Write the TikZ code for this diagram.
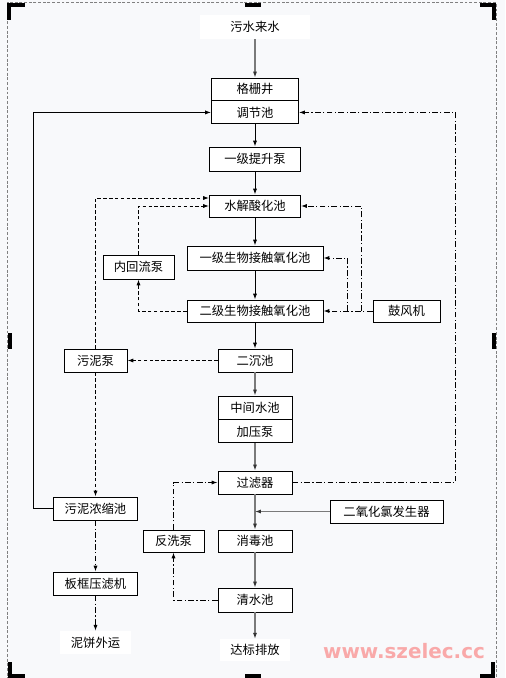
\documentclass[tikz,border=0pt]{standalone}
\usepackage{fontspec}
\newfontfamily\cjk{Noto Sans CJK SC}
\newfontfamily\wmfont{DejaVu Sans}
\usetikzlibrary{arrows.meta,positioning}
\definecolor{bgpaper}{HTML}{F8F9FB}
\definecolor{linegray}{HTML}{7A7A7A}
\definecolor{markpink}{HTML}{F9A9A9}

\begin{document}
\begin{tikzpicture}[x=0.03cm, y=-0.03cm, >={Latex[length=5pt,width=3.5pt]},
    every node/.style={font=\cjk\fontsize{10.5}{12}\selectfont},
    box/.style={draw, line width=0.8pt, fill=white, inner sep=0pt, minimum height=0.69cm},
    plain/.style={fill=white, inner sep=0pt, minimum height=0.69cm},
    flow/.style={line width=0.8pt},
    flowg/.style={linegray, line width=1.6pt, -{Latex[length=5pt,width=3.5pt,black!80]}},
    dashflow/.style={line width=0.8pt, dash pattern=on 3pt off 2pt},
    airflow/.style={line width=0.8pt, dash pattern=on 5pt off 2pt on 1pt off 2pt},
    handle/.style={line width=2.6pt}]

    \fill[bgpaper] (0,0) rectangle (505,678);
    \useasboundingbox (0,0) rectangle (505,678);
    \draw[gray, line width=0.8pt, dash pattern=on 2.5pt off 1.5pt] (7.5,2.5) rectangle (496,700);

    % frame handles
    \draw[handle] (9,20) -- (9,5) -- (25,5);
    \draw[handle] (245,5) -- (261,5);
    \draw[handle] (480,5) -- (494,5) -- (494,20);
    \draw[handle] (10,333) -- (10,349);
    \draw[handle] (494,333) -- (494,349);
    \draw[handle] (10,662) -- (10,676) -- (25,676);
    \draw[handle] (245,676) -- (261,676);
    \draw[handle] (480,676) -- (493,676) -- (493,662);

    % main line
    \node[plain, minimum width=3.3cm, minimum height=0.72cm] (ws) at (255,27) {污水来水};
    \node[box, minimum width=2.61cm, minimum height=0.66cm] (gz) at (255,89) {格栅井};
    \node[box, minimum width=2.61cm, below=0pt of gz] (tj) {调节池}; \draw[flowg] (ws) -- (gz);
    \node[box, minimum width=2.73cm, minimum height=0.72cm] (ts) at (255,159) {一级提升泵}; \draw[flow,->] (tj) -- (ts);
    \node[box, minimum width=2.73cm, minimum height=0.66cm] (sj) at (255,206) {水解酸化池}; \draw[flow,->] (ts) -- (sj);
    \node[box, minimum width=4.08cm, minimum height=0.72cm] (y1) at (255,258) {一级生物接触氧化池}; \draw[flow,->] (sj) -- (y1);
    \node[box, minimum width=4.08cm, minimum height=0.66cm] (y2) at (255,311) {二级生物接触氧化池}; \draw[flow,->] (y1) -- (y2);
    \node[box, minimum width=2.22cm] (ec) at (255,360.5) {二沉池}; \draw[flow,->] (y2) -- (ec);
    \node[box, minimum width=2.22cm] (zj) at (255,407.5) {中间水池}; \draw[flowg] (ec) -- (zj);
    \node[box, minimum width=2.22cm, below=0pt of zj] (jy) {加压泵};
    \node[box, minimum width=2.22cm] (gl) at (255,482.5) {过滤器}; \draw[flowg] (jy) -- (gl);
    \node[box, minimum width=2.22cm, minimum height=0.66cm] (xd) at (255,541) {消毒池}; \draw[flowg] (gl) -- (xd);
    \node[box, minimum width=2.22cm, minimum height=0.72cm] (qs) at (255,600) {清水池}; \draw[flowg] (xd) -- (qs);
    \node[plain, minimum width=2.1cm, minimum height=0.66cm] (db) at (255,650) {达标排放}; \draw[flowg] (qs) -- (db);

    % side units
    \node[box, minimum width=2.13cm, minimum height=0.72cm] (nh) at (138.5,267) {内回流泵};
    \node[box, minimum width=2.01cm, minimum height=0.66cm] (gf) at (406.5,311) {鼓风机};
    \node[box, minimum width=1.89cm] (wb) at (95.5,360.5) {污泥泵};
    \node[box, minimum width=2.52cm] (ns) at (95.5,508.5) {污泥浓缩池};
    \node[box, minimum width=3.39cm] (eo) at (386.5,511.5) {二氧化氯发生器};
    \node[box, minimum width=1.83cm, minimum height=0.66cm] (fx) at (173.5,541) {反洗泵};
    \node[box, minimum width=2.52cm] (bk) at (95.5,583.5) {板框压滤机};
    \node[plain, minimum width=2.1cm] (nb) at (95.5,642.5) {泥饼外运};

    % return and sludge lines
    \draw[flow,->] (ns.west) -- ++(-20,0) |- (tj.west);
    \draw[airflow,->] (gl.east) -- ++(163,0) |- (tj.east);
    \draw[dashflow,->] (ec.west) -- (wb.east);
    \draw[dashflow,->] (wb.north) |- ([yshift=0.24cm]sj.west);
    \draw[dashflow,->] (wb.south) -- (ns.north);
    \draw[dashflow,->] (y2.west) -| (nh.south);
    \draw[dashflow,->] (nh.north) |- (sj.west);
    \draw[airflow,->] (ns.south) -- (bk.north);
    \draw[airflow,->] (bk.south) -- (nb.north);

    % air and backwash
    \coordinate (a1) at ([xshift=-0.75cm]gf.west);
    \coordinate (a2) at ([xshift=-0.345cm]gf.west);
    \draw[airflow,->] (gf.west) -- (y2.east);
    \draw[airflow,->] (a1) |- (y1.east);
    \draw[airflow,->] (a2) |- (sj.east);
    \draw[flowg] (eo.west) -- (eo.west -| gl.south);
    \draw[airflow,->] (qs.west) -| (fx.south);
    \draw[airflow,->] (fx.north) |- (gl.west);

    \node[text=markpink, font=\wmfont\bfseries\fontsize{17}{17}\selectfont] (wm) at (404,651) {www.szelec.cc};
\end{tikzpicture}
\end{document}
